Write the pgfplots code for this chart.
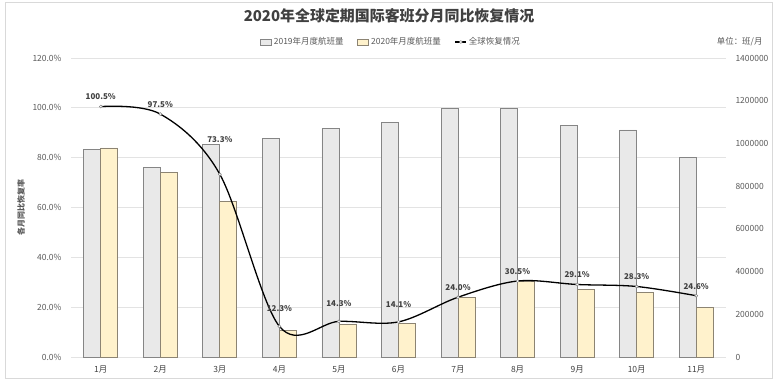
\documentclass[border=0pt]{standalone}
\usepackage{fontspec}
\setmainfont{Noto Sans CJK SC}
\usepackage{pgfplots}
\pgfplotsset{compat=1.18}
\definecolor{bar19}{HTML}{E9E9E9}
\definecolor{edge19}{HTML}{858585}
\definecolor{bar20}{HTML}{FFF2CC}
\definecolor{edge20}{HTML}{8C8473}
\definecolor{gridc}{HTML}{E3E3E3}
\definecolor{txt}{HTML}{595959}
\definecolor{lbl}{HTML}{404040}
\definecolor{frame}{HTML}{D9D9D9}
\begin{document}
\begin{tikzpicture}[x=1bp,y=1bp]
\useasboundingbox (0,0) rectangle (777,385);
\draw[frame, line width=0.8bp] (5,7) rectangle (772,383);
% axis 1: grid, left ticks, x labels
\begin{axis}[at={(71bp,28bp)}, anchor=south west, scale only axis,
  width=655bp, height=299bp,
  xmin=-0.5, xmax=10.5, ymin=0, ymax=120,
  axis line style={draw=none}, major tick length=0pt,
  ytick={0,20,40,60,80,100,120},
  yticklabels={0.0\%,20.0\%,40.0\%,60.0\%,80.0\%,100.0\%,120.0\%},
  ymajorgrids, grid style={gridc, line width=0.7bp},
  xtick={0,1,2,3,4,5,6,7,8,9,10},
  xticklabels={1月,2月,3月,4月,5月,6月,7月,8月,9月,10月,11月},
  tick label style={font=\fontsize{8.5}{10}\selectfont, text=txt},
  yticklabel style={xshift=-6bp},
  xticklabel style={yshift=-5bp, text=lbl},
  ylabel={\textbf{各月同比恢复率}},
  ylabel style={at={(axis description cs:-0.0763,0.5)}, anchor=center, font=\fontsize{8}{9}\selectfont, text=txt},
]
\addplot[draw=none] coordinates {(0,0)};
\end{axis}
% axis 2: bars, right ticks
\begin{axis}[at={(71bp,28bp)}, anchor=south west, scale only axis,
  width=655bp, height=299bp,
  xmin=-0.5, xmax=10.5, ymin=0, ymax=1400000,
  axis y line*=right, axis x line=none,
  axis line style={draw=none}, major tick length=0pt,
  ytick={0,200000,400000,600000,800000,1000000,1200000,1400000},
  scaled y ticks=false,
  /pgf/number format/assume math mode=true,
  yticklabel style={/pgf/number format/fixed, /pgf/number format/1000 sep={}, xshift=6bp, font=\fontsize{8.5}{10}\selectfont, text=txt},
  xtick=\empty,
  ybar=0pt, bar width=17bp,
]
\addplot[fill=bar19, draw=edge19, line width=0.8bp] coordinates {
(0,972500) (1,888000) (2,996000) (3,1025000) (4,1069000) (5,1097000)
(6,1164000) (7,1164000) (8,1086000) (9,1063000) (10,935000)};
\addplot[fill=bar20, draw=edge20, line width=0.8bp] coordinates {
(0,978600) (1,866000) (2,730000) (3,125000) (4,153000) (5,155000)
(6,279000) (7,355000) (8,316000) (9,301000) (10,230000)};
\end{axis}
% axis 3: line
\begin{axis}[at={(71bp,28bp)}, anchor=south west, scale only axis,
  width=655bp, height=299bp,
  xmin=-0.5, xmax=10.5, ymin=0, ymax=120, hide axis, clip=false,
  legend style={at={(axis description cs:0.4885,1.0535)}, anchor=center, draw=none, fill=none,
    font=\fontsize{8.5}{10}\selectfont, text=txt, legend columns=3,
    /tikz/every even column/.append style={column sep=12bp}},
  legend cell align=left,
]
\addlegendimage{legend image code/.code={\draw[fill=bar19, draw=edge19, line width=0.7bp] (0bp,-3bp) rectangle (11bp,3bp);}}
\addlegendentry{2019年月度航班量}
\addlegendimage{legend image code/.code={\draw[fill=bar20, draw=edge20, line width=0.7bp] (0bp,-3bp) rectangle (11bp,3bp);}}
\addlegendentry{2020年月度航班量}
\addlegendimage{legend image code/.code={\draw[black, line width=1.2bp] (0bp,0bp) -- (11bp,0bp); \draw[fill=white, draw=gray] (5.5bp,0bp) circle (1.5bp);}}
\addlegendentry{全球恢复情况}
\addplot[black, line width=1.3bp, smooth, tension=0.55,
  mark=*, mark size=1.5bp, mark options={fill=white, draw=gray, line width=0.5bp},
  nodes near coords, point meta=explicit symbolic,
  every node near coord/.append style={font=\fontsize{8}{9}\selectfont\bfseries, text=lbl, yshift=3bp},
] coordinates {
(0,100.5) [100.5\%]
(1,97.5) [97.5\%]
(2,73.3) [\raisebox{25bp}{73.3\%}]
(3,12.3) [\raisebox{8bp}{12.3\%}]
(4,14.3) [\raisebox{8bp}{14.3\%}]
(5,14.1) [\raisebox{8bp}{14.1\%}]
(6,24.0) [24.0\%]
(7,30.5) [30.5\%]
(8,29.1) [29.1\%]
(9,28.3) [28.3\%]
(10,24.6) [24.6\%]
};
\end{axis}
\node[font=\fontsize{15}{17}\selectfont\bfseries, text=lbl] at (389,369) {2020年全球定期国际客班分月同比恢复情况};
\node[font=\fontsize{8.5}{10}\selectfont, text=txt, anchor=east] at (766,343) {单位：班/月};
\end{tikzpicture}
\end{document}
